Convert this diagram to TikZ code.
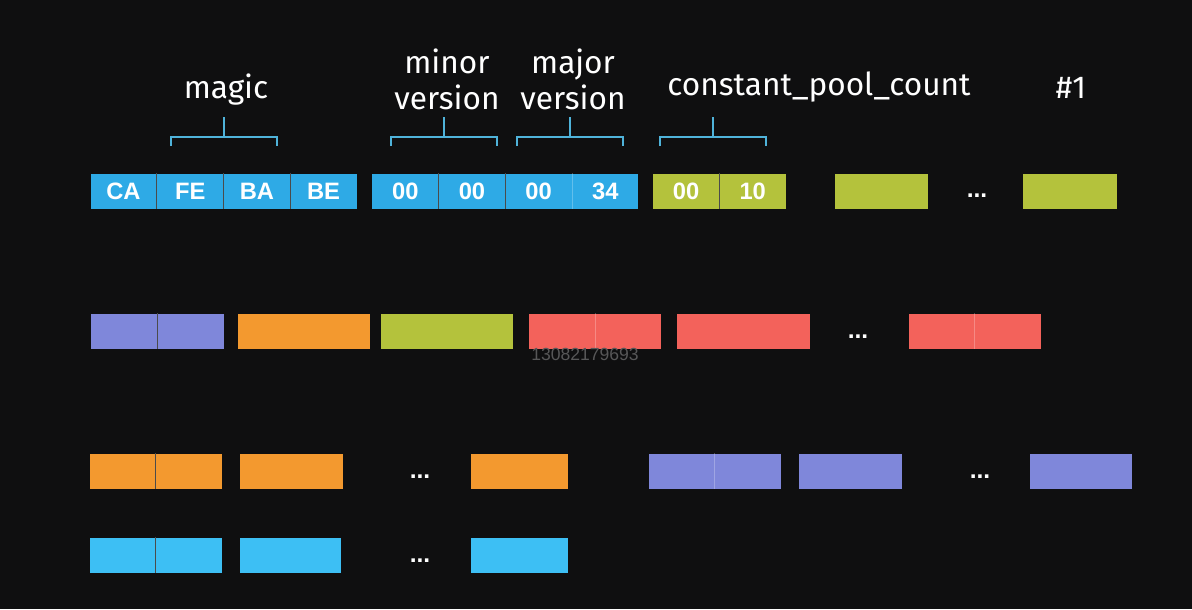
\documentclass[tikz,border=0pt]{standalone}
\usepackage{fontspec}
\setmainfont{Fira Sans}
\newfontfamily\cellfont{Liberation Sans}
\usetikzlibrary{positioning,calc}
\definecolor{bgdark}{HTML}{0F0F10}
\definecolor{bytblue}{HTML}{2EAAE6}
\definecolor{bytcyan}{HTML}{3DBFF4}
\definecolor{bytlime}{HTML}{B4C23C}
\definecolor{bytpurple}{HTML}{7F87DA}
\definecolor{bytorange}{HTML}{F3992F}
\definecolor{bytred}{HTML}{F3625B}
\definecolor{braceblue}{HTML}{4FB3DA}
% bracket over a group of bytes, #1 = top centre of the group, #2 = shift
\newcommand\bytebrace[2]{%
  \draw[brace] ($(#1)+(#2-53,-27)$) -- ++(0,-9) -- ++(106,0) -- ++(0,9);
  \draw[brace] ($(#1)+(#2,-36)$) -- ++(0,-20);
}
\begin{document}
\begin{tikzpicture}[
  x=0.02cm, y=-0.02cm,
  cell/.style={
    inner sep=0pt,
    minimum height=0.7cm,
    minimum width=1.32cm,
    font=\cellfont\bfseries\fontsize{13.5}{15}\selectfont,
    text=white
  },
  cellw/.style={cell, minimum width=#1},
  divider/.style={white, opacity=0.25, line width=0.5pt},
  label/.style={text=white, font=\fontsize{18}{20.5}\selectfont, align=center, inner sep=0pt},
  dots/.style={text=white, font=\cellfont\bfseries\fontsize{14}{14}\selectfont, inner sep=0pt},
  brace/.style={braceblue, line width=1.1pt}
]
\fill[bgdark] (0,0) rectangle (1192,609);

% row 1: header bytes
\node[cell, fill=bytblue] (ca) at (123.5,191) {CA};
\node[cell, fill=bytblue, right=0pt of ca] (fe) {FE};
\node[cell, fill=bytblue, right=0pt of fe] (ba) {BA};
\node[cell, fill=bytblue, right=0pt of ba] (be) {BE};
\node[cell, fill=bytblue, right=0.3cm of be] (mi1) {00};
\node[cell, fill=bytblue, right=0pt of mi1] (mi2) {00};
\node[cell, fill=bytblue, right=0pt of mi2] (ma1) {00};
\node[cell, fill=bytblue, right=0pt of ma1] (ma2) {34};
\node[cell, fill=bytlime, right=0.28cm of ma2] (cpc1) {00};
\node[cell, fill=bytlime, right=0pt of cpc1] (cpc2) {10};
\node[cellw=1.86cm, fill=bytlime] (cp1) at (881,191) {};
\node[dots] (dot1) at (977,196) {...};
\node[cellw=1.88cm, fill=bytlime] (cp2) at (1070,191) {};
\foreach \c in {ca,fe,ba,mi1,mi2,ma1,cpc1}
  \draw[divider] (\c.north east) -- (\c.south east);

% labels and brackets
\node[label] (magic) at (226,90) {magic};
\node[label] (minor) at (447,79) {minor\\version};
\node[label] (major) at (573,79) {major\\version};
\node[label] (cpc) at (819,87) {constant\_pool\_count};
\node[label] (cpone) at (1071,88) {\#1};
\bytebrace{$(ca.north west)!0.5!(be.north east)$}{0}
\bytebrace{$(mi1.north west)!0.5!(mi2.north east)$}{5}
\bytebrace{$(ma1.north west)!0.5!(ma2.north east)$}{-2}
\bytebrace{$(cpc1.north west)!0.5!(cpc2.north east)$}{-6}

% row 2
\node[cell, fill=bytpurple] (pu1) at (124,331) {};
\node[cell, fill=bytpurple, right=0pt of pu1] (pu2) {};
\node[cellw=2.64cm, fill=bytorange, right=0.28cm of pu2] (or1) {};
\node[cellw=2.64cm, fill=bytlime, right=0.2cm of or1] (gr1) {};
\node[cell, fill=bytred, right=0.3cm of gr1] (rd1) {};
\node[cell, fill=bytred, right=0pt of rd1] (rd2) {};
\node[cellw=2.66cm, fill=bytred, right=0.3cm of rd2] (rd3) {};
\node[dots] (dot2) at (858,337) {...};
\node[cell, fill=bytred] (rd4) at (941.5,331) {};
\node[cell, fill=bytred, right=0pt of rd4] (rd5) {};
\foreach \c in {pu1,rd1,rd4}
  \draw[divider] (\c.north east) -- (\c.south east);
\node[text=white!30!bgdark, font=\cellfont\fontsize{10}{12}\selectfont, inner sep=0pt] (mark) at (585,354) {13082179693};

% row 3
\node[cell, fill=bytorange] (oa1) at (122.5,471) {};
\node[cell, fill=bytorange, right=0pt of oa1] (oa2) {};
\node[cellw=2.06cm, fill=bytorange, right=0.34cm of oa2] (oa3) {};
\node[dots] (dot3) at (420,477) {...};
\node[cellw=1.94cm, fill=bytorange] (oa4) at (519.5,471) {};
\node[cell, fill=bytpurple] (pp1) at (681.5,471) {};
\node[cell, fill=bytpurple, right=0pt of pp1] (pp2) {};
\node[cellw=2.06cm, fill=bytpurple, right=0.34cm of pp2] (pp3) {};
\node[dots] (dot4) at (980,477) {...};
\node[cellw=2.04cm, fill=bytpurple] (pp4) at (1081,471) {};
\foreach \c in {oa1,pp1}
  \draw[divider] (\c.north east) -- (\c.south east);

% row 4
\node[cell, fill=bytcyan] (cy1) at (122.5,555) {};
\node[cell, fill=bytcyan, right=0pt of cy1] (cy2) {};
\node[cellw=2.02cm, fill=bytcyan, right=0.34cm of cy2] (cy3) {};
\node[dots] (dot5) at (420,561) {...};
\node[cellw=1.94cm, fill=bytcyan] (cy4) at (519.5,555) {};
\draw[divider] (cy1.north east) -- (cy1.south east);
\end{tikzpicture}
\end{document}
